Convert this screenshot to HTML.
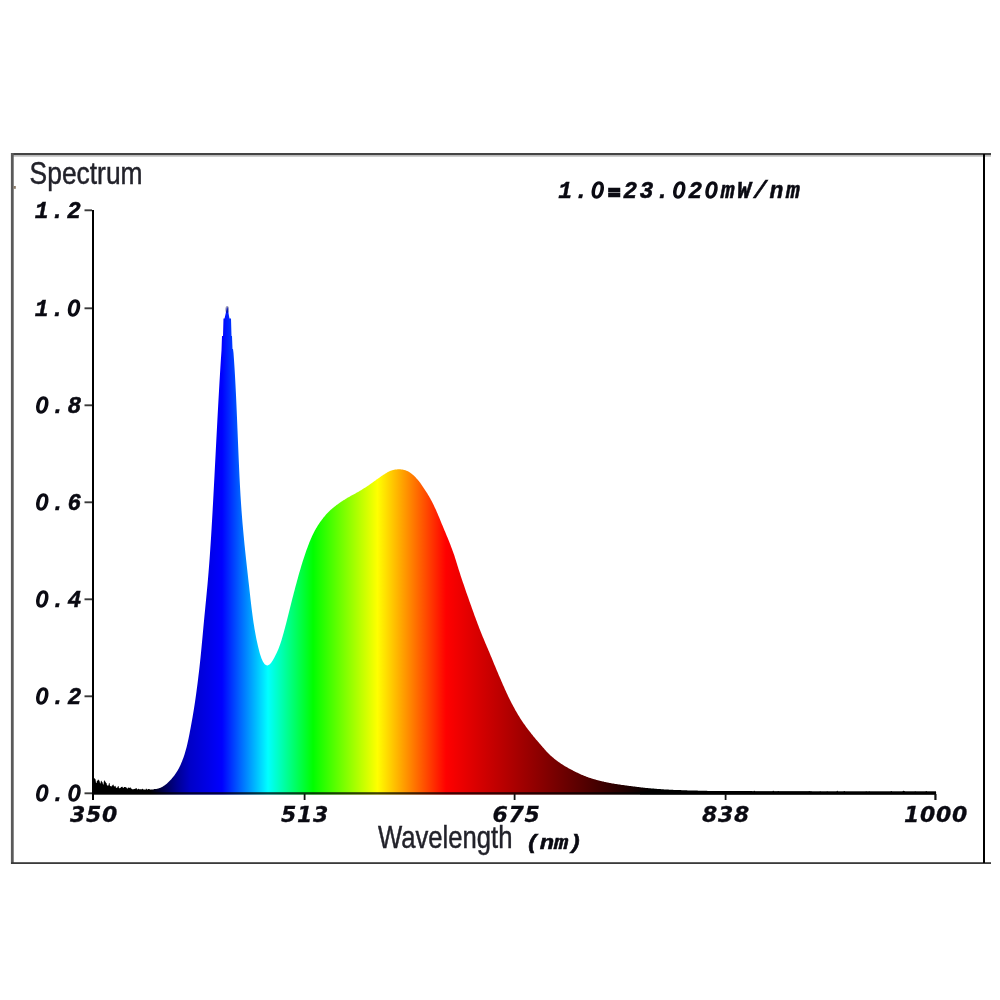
<!DOCTYPE html>
<html><head><meta charset="utf-8"><title>Spectrum</title>
<style>
html,body{margin:0;padding:0;background:#fff;}
body{width:1000px;height:1000px;overflow:hidden;position:relative;}
svg{position:absolute;left:0;top:0;display:block;}
.mono{font-family:"Liberation Mono",monospace;font-weight:bold;font-style:italic;font-size:23px;letter-spacing:2.3px;fill:#0a0a12;stroke:#0a0a12;stroke-width:0.5px;}
.z{font-family:"DejaVu Sans","Liberation Sans",sans-serif;font-weight:normal;font-style:italic;font-size:20.5px;letter-spacing:2.56px;stroke-width:1.5px;}
.eq{stroke-width:2.6px;font-size:19px;letter-spacing:3.3px;}
.dv{font-family:"DejaVu Sans","Liberation Sans",sans-serif;font-weight:bold;font-style:italic;font-size:22px;letter-spacing:0.7px;fill:#0a0a12;stroke:#0a0a12;stroke-width:0.3px;}
.sans{font-family:"Liberation Sans",sans-serif;font-size:30.5px;fill:#22222a;stroke:#22222a;stroke-width:0.45px;}
</style></head><body>
<svg width="1000" height="1000" viewBox="0 0 1000 1000">
<defs>
<linearGradient id="sp" gradientUnits="userSpaceOnUse" x1="93" y1="0" x2="936" y2="0">
<stop offset="0.0000" stop-color="rgb(0,0,0)"/>
<stop offset="0.0676" stop-color="rgb(0,0,0)"/>
<stop offset="0.0866" stop-color="rgb(0,0,90)"/>
<stop offset="0.1008" stop-color="rgb(0,0,150)"/>
<stop offset="0.1151" stop-color="rgb(0,0,200)"/>
<stop offset="0.1530" stop-color="rgb(0,0,255)"/>
<stop offset="0.2076" stop-color="rgb(0,255,255)"/>
<stop offset="0.2610" stop-color="rgb(0,255,0)"/>
<stop offset="0.3375" stop-color="rgb(255,255,0)"/>
<stop offset="0.4187" stop-color="rgb(255,0,0)"/>
<stop offset="0.6631" stop-color="rgb(0,0,0)"/>
<stop offset="1.0000" stop-color="rgb(0,0,0)"/>
</linearGradient>
</defs>
<rect width="1000" height="1000" fill="#fff"/>
<!-- frame -->
<rect x="11" y="155" width="980" height="1.7" fill="#bbb"/>
<rect x="11" y="153" width="980" height="2" fill="#444"/>
<rect x="10.9" y="153" width="2.8" height="711" fill="#5a5a5a"/>
<rect x="13.6" y="186" width="2.2" height="2.8" fill="#8a7a68"/>
<rect x="11" y="862.2" width="980" height="1.8" fill="#3a3a3a"/>
<rect x="983" y="154" width="2" height="709" fill="#000"/>
<!-- spectrum -->
<path d="M94,794.5 L94.0,778.0 L94.5,778.3 L95.0,779.0 L95.5,779.3 L96.0,782.9 L96.5,783.0 L97.0,780.6 L97.5,780.9 L98.0,779.5 L98.5,779.7 L99.0,780.4 L99.5,780.7 L100.0,783.3 L100.5,783.4 L101.0,780.6 L101.5,780.9 L102.0,782.1 L102.5,782.3 L103.0,784.5 L103.5,784.6 L104.0,780.2 L104.5,780.5 L105.0,781.5 L105.5,781.7 L106.0,782.9 L106.5,783.1 L107.0,785.5 L107.5,785.6 L108.0,785.5 L108.5,785.6 L109.0,782.9 L109.5,783.1 L110.0,785.9 L110.5,786.0 L111.0,786.5 L111.5,786.6 L112.0,785.5 L112.5,785.6 L113.0,784.6 L113.5,784.8 L114.0,786.4 L114.5,786.5 L115.0,785.8 L115.5,785.9 L116.0,787.8 L116.5,787.9 L117.0,787.4 L117.5,787.5 L118.0,785.9 L118.5,786.0 L119.0,788.2 L119.5,788.2 L120.0,788.0 L120.5,788.1 L121.0,787.0 L121.5,787.0 L122.0,786.8 L122.5,786.8 L123.0,788.1 L123.5,788.1 L124.0,786.9 L124.5,787.0 L125.0,787.0 L125.5,787.1 L126.0,787.5 L126.5,787.5 L127.0,788.6 L127.5,788.7 L128.0,787.4 L128.5,787.4 L129.0,788.0 L129.5,788.1 L130.0,787.3 L130.5,787.4 L131.0,788.4 L131.5,788.4 L132.0,789.2 L132.5,789.3 L133.0,789.2 L133.5,789.2 L134.0,789.1 L134.5,789.1 L135.0,788.7 L135.5,788.7 L136.0,787.9 L136.5,788.0 L137.0,789.5 L137.5,789.5 L138.0,788.8 L138.5,788.8 L139.0,789.3 L139.5,789.3 L140.0,789.2 L140.5,789.2 L141.0,789.3 L141.5,789.4 L142.0,788.8 L142.5,788.8 L143.0,789.3 L143.5,789.4 L144.0,789.4 L144.5,789.5 L145.0,789.7 L145.5,789.7 L146.0,788.6 L146.5,788.7 L147.0,789.6 L147.5,789.7 L148.0,789.1 L148.5,789.1 L149.0,789.0 L149.5,789.0 L150.0,789.7 L150.5,789.6 L151.0,789.6 L151.5,789.6 L152.0,789.4 L152.5,789.5 L153.0,789.5 L153.5,789.4 L154.0,789.0 L154.5,789.1 L155.0,789.1 L155.5,789.1 L156.0,789.1 L156.5,789.0 L157.0,788.8 L157.5,788.7 L158.0,788.6 L158.5,788.4 L159.0,788.3 L159.5,788.1 L160.0,787.9 L160.5,787.7 L161.0,787.5 L161.5,787.3 L162.0,787.0 L162.5,786.7 L163.0,786.4 L163.5,786.1 L164.0,785.8 L164.5,785.4 L165.0,785.1 L165.5,784.7 L166.0,784.3 L166.5,783.9 L167.0,783.5 L167.5,783.1 L168.0,782.6 L168.5,782.1 L169.0,781.6 L169.5,781.1 L170.0,780.6 L170.5,780.1 L171.0,779.5 L171.5,778.9 L172.0,778.3 L172.5,777.7 L173.0,777.1 L173.5,776.5 L174.0,775.9 L174.5,775.2 L175.0,774.5 L175.5,773.8 L176.0,773.1 L176.5,772.3 L177.0,771.5 L177.5,770.7 L178.0,769.8 L178.5,768.9 L179.0,768.0 L179.5,767.0 L180.0,766.0 L180.5,764.9 L181.0,763.8 L181.5,762.6 L182.0,761.4 L182.5,760.1 L183.0,758.8 L183.5,757.4 L184.0,756.0 L184.5,754.4 L185.0,752.8 L185.5,751.1 L186.0,749.3 L186.5,747.4 L187.0,745.4 L187.5,743.3 L188.0,741.0 L188.5,738.7 L189.0,736.2 L189.5,733.7 L190.0,731.1 L190.5,728.4 L191.0,725.8 L191.5,723.0 L192.0,720.3 L192.5,717.5 L193.0,714.6 L193.5,711.6 L194.0,708.5 L194.5,705.3 L195.0,702.0 L195.5,698.6 L196.0,695.0 L196.5,691.3 L197.0,687.6 L197.5,683.7 L198.0,679.7 L198.5,675.6 L199.0,671.4 L199.5,667.1 L200.0,662.5 L200.5,657.7 L201.0,652.8 L201.5,647.6 L202.0,642.3 L202.5,636.9 L203.0,631.5 L203.5,626.1 L204.0,620.8 L204.5,615.6 L205.0,610.4 L205.5,605.3 L206.0,600.2 L206.5,595.1 L207.0,589.8 L207.5,584.4 L208.0,578.7 L208.5,572.7 L209.0,566.5 L209.5,559.9 L210.0,552.9 L210.5,545.6 L211.0,537.9 L211.5,529.8 L212.0,521.3 L212.5,512.5 L213.0,503.4 L213.5,494.1 L214.0,484.7 L214.5,475.2 L215.0,465.6 L215.5,455.9 L216.0,446.3 L216.5,436.7 L217.0,427.2 L217.5,417.8 L218.0,408.6 L218.5,399.6 L219.0,390.7 L219.5,382.1 L220.0,373.7 L220.5,365.6 L221.0,357.8 L221.5,350.4 L222.0,336.0 L222.5,336.0 L223.0,336.0 L223.5,318.5 L224.0,318.5 L224.5,318.5 L225.0,316.6 L225.5,314.3 L226.0,312.0 L226.5,309.7 L227.0,307.4 L227.5,307.2 L228.0,310.2 L228.5,313.1 L229.0,316.1 L229.5,318.5 L230.0,318.5 L230.5,318.5 L231.0,318.5 L231.5,336.0 L232.0,336.0 L232.5,349.0 L233.0,349.0 L233.5,352.9 L234.0,360.0 L234.5,367.6 L235.0,376.0 L235.5,385.2 L236.0,395.3 L236.5,406.3 L237.0,418.0 L237.5,430.2 L238.0,442.6 L238.5,454.6 L239.0,466.1 L239.5,476.8 L240.0,486.5 L240.5,495.2 L241.0,503.1 L241.5,510.2 L242.0,516.8 L242.5,522.9 L243.0,528.6 L243.5,534.1 L244.0,539.3 L244.5,544.4 L245.0,549.3 L245.5,554.0 L246.0,558.7 L246.5,563.2 L247.0,567.7 L247.5,572.2 L248.0,576.7 L248.5,581.2 L249.0,585.6 L249.5,590.1 L250.0,594.6 L250.5,599.0 L251.0,603.3 L251.5,607.5 L252.0,611.5 L252.5,615.3 L253.0,619.0 L253.5,622.4 L254.0,625.6 L254.5,628.7 L255.0,631.6 L255.5,634.3 L256.0,636.9 L256.5,639.4 L257.0,641.8 L257.5,644.1 L258.0,646.2 L258.5,648.3 L259.0,650.3 L259.5,652.2 L260.0,653.9 L260.5,655.5 L261.0,657.0 L261.5,658.4 L262.0,659.6 L262.5,660.7 L263.0,661.7 L263.5,662.5 L264.0,663.2 L264.5,663.9 L265.0,664.4 L265.5,664.8 L266.0,665.1 L266.5,665.3 L267.0,665.4 L267.5,665.4 L268.0,665.3 L268.5,665.1 L269.0,664.8 L269.5,664.4 L270.0,664.0 L270.5,663.5 L271.0,662.9 L271.5,662.2 L272.0,661.5 L272.5,660.7 L273.0,659.9 L273.5,659.1 L274.0,658.2 L274.5,657.3 L275.0,656.3 L275.5,655.3 L276.0,654.3 L276.5,653.3 L277.0,652.2 L277.5,651.0 L278.0,649.9 L278.5,648.7 L279.0,647.4 L279.5,646.1 L280.0,644.7 L280.5,643.2 L281.0,641.7 L281.5,640.2 L282.0,638.5 L282.5,636.8 L283.0,635.1 L283.5,633.3 L284.0,631.5 L284.5,629.6 L285.0,627.7 L285.5,625.8 L286.0,623.9 L286.5,622.0 L287.0,620.0 L287.5,618.1 L288.0,616.1 L288.5,614.1 L289.0,612.1 L289.5,610.1 L290.0,608.0 L290.5,606.0 L291.0,604.0 L291.5,602.0 L292.0,600.1 L292.5,598.1 L293.0,596.2 L293.5,594.2 L294.0,592.3 L294.5,590.4 L295.0,588.5 L295.5,586.6 L296.0,584.7 L296.5,582.9 L297.0,581.0 L297.5,579.2 L298.0,577.4 L298.5,575.6 L299.0,573.8 L299.5,572.1 L300.0,570.4 L300.5,568.7 L301.0,567.0 L301.5,565.3 L302.0,563.7 L302.5,562.1 L303.0,560.5 L303.5,559.0 L304.0,557.4 L304.5,555.9 L305.0,554.4 L305.5,553.0 L306.0,551.5 L306.5,550.1 L307.0,548.7 L307.5,547.4 L308.0,546.0 L308.5,544.7 L309.0,543.4 L309.5,542.1 L310.0,540.9 L310.5,539.7 L311.0,538.5 L311.5,537.4 L312.0,536.3 L312.5,535.2 L313.0,534.2 L313.5,533.2 L314.0,532.2 L314.5,531.2 L315.0,530.3 L315.5,529.4 L316.0,528.6 L316.5,527.7 L317.0,526.9 L317.5,526.1 L318.0,525.3 L318.5,524.6 L319.0,523.8 L319.5,523.1 L320.0,522.3 L320.5,521.6 L321.0,520.9 L321.5,520.2 L322.0,519.6 L322.5,518.9 L323.0,518.3 L323.5,517.6 L324.0,517.0 L324.5,516.4 L325.0,515.8 L325.5,515.2 L326.0,514.6 L326.5,514.1 L327.0,513.5 L327.5,513.0 L328.0,512.5 L328.5,512.0 L329.0,511.5 L329.5,511.0 L330.0,510.5 L330.5,510.1 L331.0,509.6 L331.5,509.2 L332.0,508.7 L332.5,508.3 L333.0,507.9 L333.5,507.5 L334.0,507.1 L334.5,506.7 L335.0,506.3 L335.5,505.9 L336.0,505.5 L336.5,505.1 L337.0,504.8 L337.5,504.4 L338.0,504.0 L338.5,503.7 L339.0,503.3 L339.5,503.0 L340.0,502.6 L340.5,502.3 L341.0,501.9 L341.5,501.6 L342.0,501.3 L342.5,501.0 L343.0,500.6 L343.5,500.3 L344.0,500.0 L344.5,499.7 L345.0,499.4 L345.5,499.1 L346.0,498.7 L346.5,498.4 L347.0,498.1 L347.5,497.8 L348.0,497.5 L348.5,497.3 L349.0,497.0 L349.5,496.7 L350.0,496.4 L350.5,496.1 L351.0,495.8 L351.5,495.6 L352.0,495.3 L352.5,495.0 L353.0,494.8 L353.5,494.5 L354.0,494.2 L354.5,494.0 L355.0,493.7 L355.5,493.4 L356.0,493.1 L356.5,492.8 L357.0,492.6 L357.5,492.3 L358.0,492.0 L358.5,491.7 L359.0,491.4 L359.5,491.1 L360.0,490.8 L360.5,490.5 L361.0,490.2 L361.5,489.9 L362.0,489.6 L362.5,489.3 L363.0,489.0 L363.5,488.6 L364.0,488.3 L364.5,488.0 L365.0,487.7 L365.5,487.4 L366.0,487.0 L366.5,486.7 L367.0,486.4 L367.5,486.1 L368.0,485.7 L368.5,485.4 L369.0,485.0 L369.5,484.7 L370.0,484.3 L370.5,484.0 L371.0,483.6 L371.5,483.3 L372.0,482.9 L372.5,482.5 L373.0,482.2 L373.5,481.8 L374.0,481.4 L374.5,481.1 L375.0,480.7 L375.5,480.4 L376.0,480.0 L376.5,479.6 L377.0,479.3 L377.5,478.9 L378.0,478.6 L378.5,478.2 L379.0,477.9 L379.5,477.5 L380.0,477.2 L380.5,476.8 L381.0,476.5 L381.5,476.1 L382.0,475.8 L382.5,475.5 L383.0,475.1 L383.5,474.8 L384.0,474.5 L384.5,474.2 L385.0,473.8 L385.5,473.5 L386.0,473.2 L386.5,472.9 L387.0,472.6 L387.5,472.3 L388.0,472.0 L388.5,471.7 L389.0,471.5 L389.5,471.2 L390.0,471.0 L390.5,470.8 L391.0,470.7 L391.5,470.5 L392.0,470.3 L392.5,470.2 L393.0,470.1 L393.5,470.0 L394.0,469.8 L394.5,469.7 L395.0,469.6 L395.5,469.6 L396.0,469.5 L396.5,469.4 L397.0,469.4 L397.5,469.3 L398.0,469.3 L398.5,469.3 L399.0,469.3 L399.5,469.3 L400.0,469.3 L400.5,469.3 L401.0,469.4 L401.5,469.5 L402.0,469.5 L402.5,469.6 L403.0,469.7 L403.5,469.8 L404.0,469.9 L404.5,470.1 L405.0,470.2 L405.5,470.3 L406.0,470.5 L406.5,470.7 L407.0,470.9 L407.5,471.1 L408.0,471.4 L408.5,471.6 L409.0,471.9 L409.5,472.2 L410.0,472.6 L410.5,472.9 L411.0,473.3 L411.5,473.7 L412.0,474.1 L412.5,474.5 L413.0,474.9 L413.5,475.3 L414.0,475.8 L414.5,476.3 L415.0,476.8 L415.5,477.3 L416.0,477.8 L416.5,478.4 L417.0,478.9 L417.5,479.5 L418.0,480.1 L418.5,480.7 L419.0,481.3 L419.5,482.0 L420.0,482.6 L420.5,483.3 L421.0,484.0 L421.5,484.7 L422.0,485.5 L422.5,486.2 L423.0,486.9 L423.5,487.7 L424.0,488.4 L424.5,489.2 L425.0,489.9 L425.5,490.7 L426.0,491.5 L426.5,492.2 L427.0,493.0 L427.5,493.8 L428.0,494.7 L428.5,495.5 L429.0,496.3 L429.5,497.2 L430.0,498.1 L430.5,499.0 L431.0,499.9 L431.5,500.8 L432.0,501.8 L432.5,502.8 L433.0,503.8 L433.5,504.8 L434.0,505.8 L434.5,506.9 L435.0,507.9 L435.5,509.0 L436.0,510.1 L436.5,511.2 L437.0,512.4 L437.5,513.5 L438.0,514.7 L438.5,515.9 L439.0,517.1 L439.5,518.3 L440.0,519.5 L440.5,520.7 L441.0,521.9 L441.5,523.2 L442.0,524.4 L442.5,525.6 L443.0,526.8 L443.5,528.0 L444.0,529.2 L444.5,530.4 L445.0,531.5 L445.5,532.7 L446.0,533.9 L446.5,535.2 L447.0,536.4 L447.5,537.6 L448.0,538.8 L448.5,540.1 L449.0,541.3 L449.5,542.6 L450.0,543.8 L450.5,545.1 L451.0,546.4 L451.5,547.7 L452.0,549.0 L452.5,550.4 L453.0,551.7 L453.5,553.2 L454.0,554.6 L454.5,556.1 L455.0,557.7 L455.5,559.2 L456.0,560.8 L456.5,562.5 L457.0,564.1 L457.5,565.7 L458.0,567.3 L458.5,568.9 L459.0,570.5 L459.5,572.1 L460.0,573.6 L460.5,575.2 L461.0,576.7 L461.5,578.2 L462.0,579.7 L462.5,581.2 L463.0,582.7 L463.5,584.1 L464.0,585.6 L464.5,587.1 L465.0,588.5 L465.5,590.0 L466.0,591.4 L466.5,592.9 L467.0,594.3 L467.5,595.7 L468.0,597.1 L468.5,598.6 L469.0,600.0 L469.5,601.4 L470.0,602.8 L470.5,604.2 L471.0,605.6 L471.5,607.0 L472.0,608.4 L472.5,609.8 L473.0,611.2 L473.5,612.6 L474.0,614.0 L474.5,615.4 L475.0,616.7 L475.5,618.1 L476.0,619.4 L476.5,620.8 L477.0,622.1 L477.5,623.5 L478.0,624.8 L478.5,626.1 L479.0,627.4 L479.5,628.7 L480.0,629.9 L480.5,631.2 L481.0,632.5 L481.5,633.7 L482.0,634.9 L482.5,636.2 L483.0,637.4 L483.5,638.6 L484.0,639.8 L484.5,641.0 L485.0,642.2 L485.5,643.4 L486.0,644.5 L486.5,645.7 L487.0,646.9 L487.5,648.1 L488.0,649.3 L488.5,650.4 L489.0,651.6 L489.5,652.8 L490.0,654.0 L490.5,655.2 L491.0,656.4 L491.5,657.6 L492.0,658.8 L492.5,660.1 L493.0,661.3 L493.5,662.5 L494.0,663.7 L494.5,664.9 L495.0,666.1 L495.5,667.3 L496.0,668.5 L496.5,669.7 L497.0,670.9 L497.5,672.1 L498.0,673.3 L498.5,674.5 L499.0,675.7 L499.5,676.8 L500.0,678.0 L500.5,679.1 L501.0,680.3 L501.5,681.4 L502.0,682.6 L502.5,683.7 L503.0,684.9 L503.5,686.0 L504.0,687.1 L504.5,688.2 L505.0,689.4 L505.5,690.5 L506.0,691.6 L506.5,692.7 L507.0,693.7 L507.5,694.8 L508.0,695.9 L508.5,696.9 L509.0,697.9 L509.5,698.9 L510.0,699.9 L510.5,700.9 L511.0,701.9 L511.5,702.9 L512.0,703.9 L512.5,704.8 L513.0,705.8 L513.5,706.7 L514.0,707.6 L514.5,708.6 L515.0,709.5 L515.5,710.4 L516.0,711.2 L516.5,712.1 L517.0,713.0 L517.5,713.8 L518.0,714.7 L518.5,715.5 L519.0,716.3 L519.5,717.1 L520.0,717.9 L520.5,718.7 L521.0,719.5 L521.5,720.3 L522.0,721.0 L522.5,721.8 L523.0,722.5 L523.5,723.2 L524.0,723.9 L524.5,724.6 L525.0,725.3 L525.5,726.0 L526.0,726.7 L526.5,727.4 L527.0,728.0 L527.5,728.7 L528.0,729.4 L528.5,730.0 L529.0,730.7 L529.5,731.3 L530.0,732.0 L530.5,732.6 L531.0,733.3 L531.5,733.9 L532.0,734.5 L532.5,735.1 L533.0,735.7 L533.5,736.4 L534.0,737.0 L534.5,737.6 L535.0,738.2 L535.5,738.8 L536.0,739.4 L536.5,739.9 L537.0,740.5 L537.5,741.1 L538.0,741.7 L538.5,742.3 L539.0,742.8 L539.5,743.4 L540.0,744.0 L540.5,744.6 L541.0,745.2 L541.5,745.7 L542.0,746.3 L542.5,746.9 L543.0,747.5 L543.5,748.0 L544.0,748.6 L544.5,749.2 L545.0,749.8 L545.5,750.3 L546.0,750.9 L546.5,751.4 L547.0,751.9 L547.5,752.5 L548.0,753.0 L548.5,753.5 L549.0,754.0 L549.5,754.5 L550.0,755.0 L550.5,755.4 L551.0,755.9 L551.5,756.3 L552.0,756.8 L552.5,757.2 L553.0,757.6 L553.5,758.0 L554.0,758.5 L554.5,758.9 L555.0,759.3 L555.5,759.7 L556.0,760.1 L556.5,760.4 L557.0,760.8 L557.5,761.2 L558.0,761.6 L558.5,761.9 L559.0,762.3 L559.5,762.6 L560.0,763.0 L560.5,763.3 L561.0,763.7 L561.5,764.0 L562.0,764.3 L562.5,764.6 L563.0,764.9 L563.5,765.3 L564.0,765.6 L564.5,765.9 L565.0,766.2 L565.5,766.5 L566.0,766.7 L566.5,767.0 L567.0,767.3 L567.5,767.6 L568.0,767.9 L568.5,768.2 L569.0,768.4 L569.5,768.7 L570.0,769.0 L570.5,769.3 L571.0,769.5 L571.5,769.8 L572.0,770.1 L572.5,770.3 L573.0,770.6 L573.5,770.9 L574.0,771.1 L574.5,771.4 L575.0,771.6 L575.5,771.9 L576.0,772.1 L576.5,772.4 L577.0,772.6 L577.5,772.8 L578.0,773.1 L578.5,773.3 L579.0,773.5 L579.5,773.8 L580.0,774.0 L580.5,774.2 L581.0,774.4 L581.5,774.7 L582.0,774.9 L582.5,775.1 L583.0,775.3 L583.5,775.5 L584.0,775.7 L584.5,775.9 L585.0,776.1 L585.5,776.3 L586.0,776.5 L586.5,776.7 L587.0,776.9 L587.5,777.1 L588.0,777.3 L588.5,777.5 L589.0,777.7 L589.5,777.8 L590.0,778.0 L590.5,778.1 L591.0,778.3 L591.5,778.5 L592.0,778.6 L592.5,778.8 L593.0,778.9 L593.5,779.1 L594.0,779.2 L594.5,779.3 L595.0,779.5 L595.5,779.6 L596.0,779.8 L596.5,779.9 L597.0,780.0 L597.5,780.2 L598.0,780.3 L598.5,780.4 L599.0,780.6 L599.5,780.7 L600.0,780.8 L600.5,780.9 L601.0,781.1 L601.5,781.2 L602.0,781.3 L602.5,781.4 L603.0,781.5 L603.5,781.6 L604.0,781.8 L604.5,781.9 L605.0,782.0 L605.5,782.1 L606.0,782.2 L606.5,782.3 L607.0,782.4 L607.5,782.5 L608.0,782.6 L608.5,782.7 L609.0,782.8 L609.5,782.9 L610.0,783.0 L610.5,783.1 L611.0,783.2 L611.5,783.3 L612.0,783.4 L612.5,783.4 L613.0,783.5 L613.5,783.6 L614.0,783.7 L614.5,783.8 L615.0,783.9 L615.5,784.0 L616.0,784.0 L616.5,784.1 L617.0,784.2 L617.5,784.3 L618.0,784.3 L618.5,784.4 L619.0,784.5 L619.5,784.6 L620.0,784.6 L620.5,784.7 L621.0,784.8 L621.5,784.9 L622.0,784.9 L622.5,785.0 L623.0,785.1 L623.5,785.1 L624.0,785.2 L624.5,785.3 L625.0,785.3 L625.5,785.4 L626.0,785.5 L626.5,785.5 L627.0,785.6 L627.5,785.7 L628.0,785.7 L628.5,785.8 L629.0,785.9 L629.5,785.9 L630.0,786.0 L630.5,786.1 L631.0,786.1 L631.5,786.2 L632.0,786.3 L632.5,786.3 L633.0,786.4 L633.5,786.5 L634.0,786.5 L634.5,786.6 L635.0,786.6 L635.5,786.7 L636.0,786.8 L636.5,786.8 L637.0,786.9 L637.5,787.0 L638.0,787.0 L638.5,787.1 L639.0,787.1 L639.5,787.2 L640.0,787.3 L640.5,787.3 L641.0,787.4 L641.5,787.4 L642.0,787.5 L642.5,787.5 L643.0,787.6 L643.5,787.7 L644.0,787.7 L644.5,787.8 L645.0,787.8 L645.5,787.9 L646.0,787.9 L646.5,788.0 L647.0,788.0 L647.5,788.1 L648.0,788.1 L648.5,788.2 L649.0,788.2 L649.5,788.3 L650.0,788.3 L650.5,788.3 L651.0,788.4 L651.5,788.4 L652.0,788.5 L652.5,788.5 L653.0,788.6 L653.5,788.6 L654.0,788.6 L654.5,788.7 L655.0,788.7 L655.5,788.8 L656.0,788.8 L656.5,788.8 L657.0,788.9 L657.5,788.9 L658.0,789.0 L658.5,789.0 L659.0,789.0 L659.5,789.1 L660.0,789.1 L660.5,789.1 L661.0,789.2 L661.5,789.2 L662.0,789.2 L662.5,789.3 L663.0,789.3 L663.5,789.3 L664.0,789.4 L664.5,789.4 L665.0,789.4 L665.5,789.5 L666.0,789.5 L666.5,789.5 L667.0,789.6 L667.5,789.6 L668.0,789.6 L668.5,789.6 L669.0,789.7 L669.5,789.7 L670.0,789.7 L670.5,789.7 L671.0,789.8 L671.5,789.8 L672.0,789.8 L672.5,789.8 L673.0,789.8 L673.5,789.9 L674.0,789.9 L674.5,789.9 L675.0,789.9 L675.5,789.9 L676.0,790.0 L676.5,790.0 L677.0,790.0 L677.5,790.0 L678.0,790.0 L678.5,790.0 L679.0,790.1 L679.5,790.1 L680.0,790.1 L680.5,790.1 L681.0,790.1 L681.5,790.2 L682.0,790.2 L682.5,790.2 L683.0,790.2 L683.5,790.2 L684.0,790.2 L684.5,790.3 L685.0,790.3 L685.5,790.3 L686.0,790.3 L686.5,790.3 L687.0,790.3 L687.5,790.4 L688.0,790.4 L688.5,790.4 L689.0,790.4 L689.5,790.4 L690.0,790.4 L690.5,790.4 L691.0,790.5 L691.5,790.5 L692.0,790.5 L692.5,790.5 L693.0,790.5 L693.5,790.5 L694.0,790.5 L694.5,790.6 L695.0,790.6 L695.5,790.6 L696.0,790.6 L696.5,790.6 L697.0,790.6 L697.5,790.6 L698.0,790.7 L698.5,790.7 L699.0,790.7 L699.5,790.7 L700.0,790.7 L700.5,790.7 L701.0,790.7 L701.5,790.7 L702.0,790.7 L702.5,790.8 L703.0,790.8 L703.5,790.8 L704.0,790.8 L704.5,790.8 L705.0,790.8 L705.5,790.8 L706.0,790.8 L706.5,790.8 L707.0,790.8 L707.5,790.9 L708.0,790.9 L708.5,790.9 L709.0,790.9 L709.5,790.9 L710.0,790.9 L710.5,790.9 L711.0,790.9 L711.5,790.9 L712.0,790.9 L712.5,790.9 L713.0,790.9 L713.5,790.9 L714.0,790.9 L714.5,791.0 L715.0,791.0 L715.5,791.0 L716.0,791.0 L716.5,791.0 L717.0,791.0 L717.5,791.0 L718.0,791.0 L718.5,791.0 L719.0,791.0 L719.5,791.0 L720.0,791.0 L720.5,791.0 L721.0,791.0 L721.5,791.0 L722.0,791.0 L722.5,791.0 L723.0,791.0 L723.5,791.0 L724.0,791.0 L724.5,791.0 L725.0,791.0 L725.5,791.0 L726.0,791.0 L726.5,791.0 L727.0,791.0 L727.5,791.0 L728.0,791.0 L728.5,791.0 L729.0,791.0 L729.5,791.0 L730.0,791.0 L730.5,791.0 L731.0,791.1 L731.5,791.1 L732.0,791.1 L732.5,791.1 L733.0,791.1 L733.5,791.1 L734.0,791.1 L734.5,791.1 L735.0,791.1 L735.5,791.1 L736.0,791.1 L736.5,791.1 L737.0,791.1 L737.5,791.1 L738.0,791.1 L738.5,791.1 L739.0,791.1 L739.5,791.1 L740.0,791.1 L740.5,791.1 L741.0,791.1 L741.5,791.1 L742.0,791.1 L742.5,791.1 L743.0,791.1 L743.5,791.1 L744.0,791.1 L744.5,791.1 L745.0,791.1 L745.5,791.1 L746.0,791.1 L746.5,791.1 L747.0,791.1 L747.5,791.1 L748.0,791.1 L748.5,791.1 L749.0,791.1 L749.5,791.1 L750.0,791.1 L750.5,791.1 L751.0,791.1 L751.5,791.1 L752.0,791.1 L752.5,791.2 L753.0,791.2 L753.5,791.2 L754.0,790.7 L754.5,790.7 L755.0,791.2 L755.5,791.2 L756.0,791.2 L756.5,791.2 L757.0,791.2 L757.5,791.2 L758.0,791.2 L758.5,791.2 L759.0,791.2 L759.5,791.2 L760.0,791.2 L760.5,791.2 L761.0,791.2 L761.5,791.2 L762.0,791.2 L762.5,791.2 L763.0,791.2 L763.5,791.2 L764.0,791.2 L764.5,791.2 L765.0,791.2 L765.5,791.2 L766.0,791.2 L766.5,791.2 L767.0,791.2 L767.5,791.2 L768.0,791.2 L768.5,791.2 L769.0,791.2 L769.5,791.2 L770.0,791.2 L770.5,791.2 L771.0,791.2 L771.5,791.2 L772.0,791.2 L772.5,791.2 L773.0,790.8 L773.5,790.8 L774.0,791.2 L774.5,791.2 L775.0,791.2 L775.5,791.2 L776.0,791.2 L776.5,791.2 L777.0,791.2 L777.5,791.2 L778.0,791.1 L778.5,791.1 L779.0,791.3 L779.5,791.3 L780.0,791.3 L780.5,791.3 L781.0,791.3 L781.5,791.3 L782.0,791.3 L782.5,791.3 L783.0,791.3 L783.5,791.3 L784.0,791.3 L784.5,791.3 L785.0,791.3 L785.5,791.3 L786.0,791.3 L786.5,791.3 L787.0,791.3 L787.5,791.3 L788.0,791.3 L788.5,791.3 L789.0,791.3 L789.5,791.3 L790.0,791.3 L790.5,791.3 L791.0,791.3 L791.5,791.3 L792.0,791.3 L792.5,791.3 L793.0,791.3 L793.5,791.3 L794.0,791.3 L794.5,791.3 L795.0,791.3 L795.5,791.3 L796.0,791.3 L796.5,791.3 L797.0,791.3 L797.5,791.3 L798.0,791.3 L798.5,791.3 L799.0,791.2 L799.5,791.2 L800.0,791.3 L800.5,791.3 L801.0,791.3 L801.5,791.3 L802.0,791.3 L802.5,791.3 L803.0,791.3 L803.5,791.3 L804.0,791.3 L804.5,791.3 L805.0,791.3 L805.5,791.3 L806.0,791.3 L806.5,791.3 L807.0,791.3 L807.5,791.3 L808.0,791.3 L808.5,791.3 L809.0,791.0 L809.5,791.0 L810.0,791.3 L810.5,791.3 L811.0,791.3 L811.5,791.3 L812.0,791.4 L812.5,791.4 L813.0,791.4 L813.5,791.4 L814.0,791.4 L814.5,791.4 L815.0,791.4 L815.5,791.4 L816.0,791.4 L816.5,791.4 L817.0,791.4 L817.5,791.4 L818.0,791.4 L818.5,791.4 L819.0,791.4 L819.5,791.4 L820.0,791.2 L820.5,791.2 L821.0,791.4 L821.5,791.4 L822.0,791.4 L822.5,791.4 L823.0,791.4 L823.5,791.4 L824.0,791.4 L824.5,791.4 L825.0,791.4 L825.5,791.4 L826.0,791.4 L826.5,791.4 L827.0,791.2 L827.5,791.2 L828.0,791.4 L828.5,791.4 L829.0,791.4 L829.5,791.4 L830.0,791.4 L830.5,791.4 L831.0,791.4 L831.5,791.4 L832.0,791.4 L832.5,791.4 L833.0,791.4 L833.5,791.4 L834.0,791.4 L834.5,791.4 L835.0,791.4 L835.5,791.4 L836.0,791.4 L836.5,791.4 L837.0,790.7 L837.5,790.7 L838.0,791.4 L838.5,791.4 L839.0,791.4 L839.5,791.4 L840.0,791.4 L840.5,791.4 L841.0,791.4 L841.5,791.4 L842.0,791.4 L842.5,791.4 L843.0,791.4 L843.5,791.4 L844.0,791.1 L844.5,791.1 L845.0,791.4 L845.5,791.4 L846.0,791.4 L846.5,791.4 L847.0,791.4 L847.5,791.4 L848.0,791.4 L848.5,791.4 L849.0,791.4 L849.5,791.4 L850.0,791.4 L850.5,791.4 L851.0,791.4 L851.5,791.4 L852.0,791.4 L852.5,791.4 L853.0,791.4 L853.5,791.4 L854.0,791.4 L854.5,791.4 L855.0,791.4 L855.5,791.4 L856.0,791.4 L856.5,791.4 L857.0,791.4 L857.5,791.4 L858.0,791.4 L858.5,791.4 L859.0,791.4 L859.5,791.4 L860.0,791.4 L860.5,791.4 L861.0,791.4 L861.5,791.4 L862.0,791.4 L862.5,791.5 L863.0,791.5 L863.5,791.5 L864.0,791.5 L864.5,791.5 L865.0,791.5 L865.5,791.5 L866.0,791.3 L866.5,791.3 L867.0,791.5 L867.5,791.5 L868.0,791.5 L868.5,791.5 L869.0,791.2 L869.5,791.2 L870.0,791.5 L870.5,791.5 L871.0,791.5 L871.5,791.5 L872.0,791.5 L872.5,791.5 L873.0,791.5 L873.5,791.5 L874.0,791.5 L874.5,791.5 L875.0,791.5 L875.5,791.5 L876.0,791.5 L876.5,791.5 L877.0,791.5 L877.5,791.5 L878.0,791.5 L878.5,791.5 L879.0,791.5 L879.5,791.5 L880.0,791.5 L880.5,791.5 L881.0,791.5 L881.5,791.5 L882.0,791.5 L882.5,791.5 L883.0,791.5 L883.5,791.5 L884.0,791.5 L884.5,791.5 L885.0,791.5 L885.5,791.5 L886.0,791.5 L886.5,791.5 L887.0,791.5 L887.5,791.5 L888.0,791.5 L888.5,791.5 L889.0,791.5 L889.5,791.5 L890.0,791.5 L890.5,791.5 L891.0,791.1 L891.5,791.1 L892.0,791.5 L892.5,791.5 L893.0,791.5 L893.5,791.5 L894.0,791.5 L894.5,791.5 L895.0,791.5 L895.5,791.5 L896.0,791.5 L896.5,791.5 L897.0,791.5 L897.5,791.5 L898.0,791.5 L898.5,791.5 L899.0,791.5 L899.5,791.5 L900.0,791.5 L900.5,791.5 L901.0,791.5 L901.5,791.5 L902.0,791.5 L902.5,791.5 L903.0,790.7 L903.5,790.7 L904.0,791.1 L904.5,791.1 L905.0,791.5 L905.5,791.5 L906.0,791.5 L906.5,791.5 L907.0,791.5 L907.5,791.5 L908.0,791.5 L908.5,791.5 L909.0,791.5 L909.5,791.5 L910.0,791.5 L910.5,791.5 L911.0,791.5 L911.5,791.5 L912.0,791.5 L912.5,791.5 L913.0,791.5 L913.5,791.5 L914.0,791.5 L914.5,791.5 L915.0,791.2 L915.5,791.2 L916.0,791.5 L916.5,791.5 L917.0,791.5 L917.5,791.5 L918.0,791.5 L918.5,791.5 L919.0,791.5 L919.5,791.5 L920.0,791.5 L920.5,791.5 L921.0,791.5 L921.5,791.5 L922.0,791.5 L922.5,791.5 L923.0,791.5 L923.5,791.5 L924.0,791.5 L924.5,791.5 L925.0,791.5 L925.5,791.5 L926.0,790.9 L926.5,790.9 L927.0,791.5 L927.5,791.5 L928.0,791.5 L928.5,791.5 L929.0,791.5 L929.5,791.5 L930.0,791.5 L930.5,791.5 L931.0,791.5 L931.5,791.5 L932.0,791.5 L932.5,791.5 L933.0,791.5 L933.5,791.5 L934.0,791.5 L934.5,791.5 L935.0,791.5 L935.5,791.5 L936.0,791.5 L936,794.5 Z" fill="url(#sp)"/>
<ellipse cx="227.2" cy="309.5" rx="1.8" ry="3.6" fill="#000060" opacity="0.42"/>
<rect x="93" y="792.2" width="843" height="2.3" fill="#000" opacity="0.75"/>
<rect x="640" y="791.6" width="296" height="2.8" fill="#000"/>
<!-- axes -->
<rect x="92" y="210" width="2" height="590" fill="#000"/>
<rect x="934.5" y="792" width="1.6" height="8" fill="#000"/>
<line x1="84.5" x2="92" y1="210.3" y2="210.3" stroke="#3a3a3a" stroke-width="1.9"/>
<line x1="84.5" x2="92" y1="308.3" y2="308.3" stroke="#3a3a3a" stroke-width="1.9"/>
<line x1="84.5" x2="92" y1="405.3" y2="405.3" stroke="#3a3a3a" stroke-width="1.9"/>
<line x1="84.5" x2="92" y1="502.3" y2="502.3" stroke="#3a3a3a" stroke-width="1.9"/>
<line x1="84.5" x2="92" y1="599.3" y2="599.3" stroke="#3a3a3a" stroke-width="1.9"/>
<line x1="84.5" x2="92" y1="696.3" y2="696.3" stroke="#3a3a3a" stroke-width="1.9"/>
<line x1="84.5" x2="92" y1="793.3" y2="793.3" stroke="#3a3a3a" stroke-width="1.9"/>
<line x1="304.6" x2="304.6" y1="794" y2="800" stroke="#111" stroke-width="1.8"/>
<line x1="514.6" x2="514.6" y1="794" y2="800" stroke="#111" stroke-width="1.8"/>
<line x1="725.6" x2="725.6" y1="794" y2="800" stroke="#111" stroke-width="1.8"/>
<line x1="935.6" x2="935.6" y1="794" y2="800" stroke="#111" stroke-width="1.8"/>
<text class="mono" x="83" y="218.2" text-anchor="end">1.2</text>
<text class="mono" x="83" y="316.2" text-anchor="end">1.<tspan class="z" dx="0.5">0</tspan></text>
<text class="mono" x="83" y="413.2" text-anchor="end"><tspan class="z" dx="0.5">0</tspan>.8</text>
<text class="mono" x="83" y="510.2" text-anchor="end"><tspan class="z" dx="0.5">0</tspan>.6</text>
<text class="mono" x="83" y="607.2" text-anchor="end"><tspan class="z" dx="0.5">0</tspan>.4</text>
<text class="mono" x="83" y="704.2" text-anchor="end"><tspan class="z" dx="0.5">0</tspan>.2</text>
<text class="mono" x="83" y="801.2" text-anchor="end"><tspan class="z" dx="0.5">0</tspan>.<tspan class="z" dx="0.5">0</tspan></text>
<text class="dv" x="94.0" y="822" text-anchor="middle">350</text>
<text class="dv" x="305.0" y="822" text-anchor="middle">513</text>
<text class="dv" x="516.4" y="822" text-anchor="middle">675</text>
<text class="dv" x="726.0" y="822" text-anchor="middle">838</text>
<text class="dv" x="936.0" y="822" text-anchor="middle">1000</text>
<text class="sans" x="29.6" y="184.3" textLength="113" lengthAdjust="spacingAndGlyphs">Spectrum</text>
<text class="sans" x="378" y="848.4" textLength="134.5" lengthAdjust="spacingAndGlyphs">Wavelength</text>
<text class="mono" transform="translate(525.5,848.7) scale(1.22,1)" style="font-size:19.5px;letter-spacing:0">(nm)</text>
<text class="mono" x="558.2" y="198" style="letter-spacing:2.5px">1.<tspan class="z" dx="0.5">0</tspan><tspan class="eq" dx="1.6" dy="1.1">=</tspan><tspan dy="-1.1">2</tspan>3.<tspan class="z" dx="0.5">0</tspan>2<tspan class="z" dx="0.5">0</tspan>mW/nm</text>
</svg>
</body></html>
